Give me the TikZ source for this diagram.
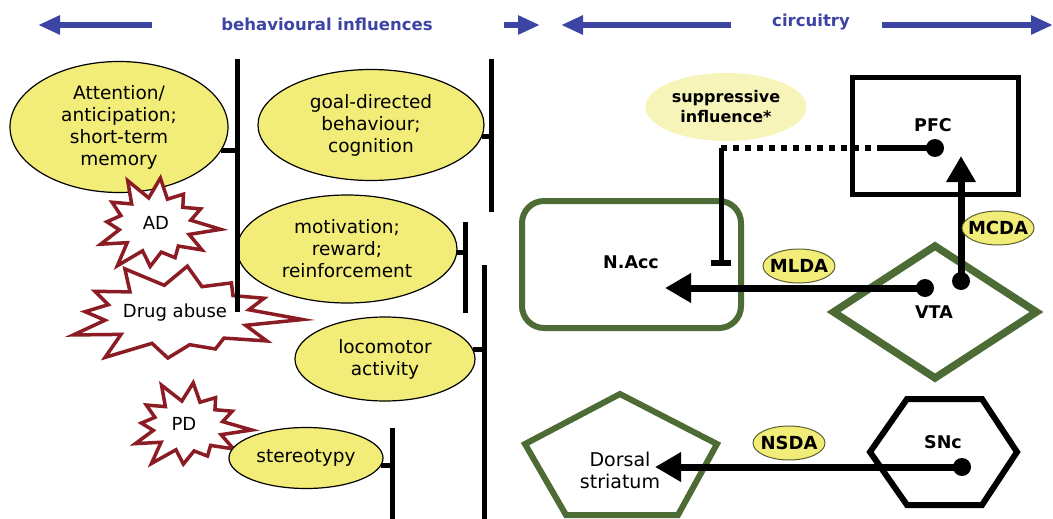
\documentclass[tikz,border=0pt]{standalone}
\usepackage{fontspec}
\setmainfont{DejaVu Sans}
\usetikzlibrary{shapes.geometric,arrows.meta}
\definecolor{hblue}{HTML}{3C44A4}
\definecolor{bgreen}{HTML}{4D6B35}
\definecolor{ell}{HTML}{F2EC78}
\definecolor{pale}{HTML}{F6F4B8}
\definecolor{bred}{HTML}{8C1C24}
\definecolor{lblb}{HTML}{5A6030}
\newcommand\mkburst[5]{%
 \draw[burst] plot[samples at={0,...,23}, variable=\k]
 ({#1+(mod(\k,2)==0 ? #3*(0.86+0.14*cos(\k*137)) : #3*#5)*cos(\k*15+5)},
  {#2+(mod(\k,2)==0 ? #4*(0.86+0.14*cos(\k*137)) : #4*#5)*sin(\k*15+5)}) -- cycle;}
\begin{document}
\begin{tikzpicture}[x=1pt,y=-1pt,
 behell/.style={ellipse, draw=black, line width=1.2pt, fill=ell, inner sep=0pt, align=center, font=\fontsize{18.5}{22}\selectfont},
 bar/.style={line width=5pt},
 burst/.style={draw=bred, line width=3.5pt, fill=white, line join=miter},
 bursttext/.style={font=\fontsize{18}{22}\selectfont},
 harrow/.style={draw=hblue, line width=6pt, -{Triangle[length=22pt,width=18pt]}},
 htext/.style={text=hblue, font=\bfseries\fontsize{16.5}{20}\selectfont},
 ctext/.style={font=\bfseries\fontsize{17.5}{21}\selectfont, align=center},
 dtext/.style={font=\fontsize{19}{22}\selectfont, align=center},
 arr/.style={line width=7pt, -{Triangle[length=26pt,width=28pt]}},
 lab/.style={ellipse, draw=lblb, line width=1pt, fill=ell, inner xsep=-14pt, inner ysep=-2pt, minimum width=72pt, minimum height=34pt, font=\bfseries\fontsize{18}{20}\selectfont},
 dotf/.style={fill=black}
]
\useasboundingbox (0,0) rectangle (1053,519);

% header
\coordinate (ha1s) at (152,25); \coordinate (ha1e) at (38,25);
\coordinate (ha2s) at (504,25); \coordinate (ha2e) at (540,25);
\coordinate (ha3s) at (731,25); \coordinate (ha3e) at (561,25);
\coordinate (ha4s) at (882,25); \coordinate (ha4e) at (1053,25);
\draw[harrow] (ha1s) -- (ha1e);
\draw[harrow] (ha2s) -- (ha2e);
\draw[harrow] (ha3s) -- (ha3e);
\draw[harrow] (ha4s) -- (ha4e);
\node[htext] (beh) at (327,24) {behavioural influences};
\node[htext] (circ) at (811,22) {circuitry};

% left: behaviours
\node[behell, minimum width=218pt, minimum height=131pt] (att) at (119,127) {Attention/\\anticipation;\\short-term\\memory};
\mkburst{155}{225}{66}{50}{0.55}
\node[bursttext] (ad) at (156,223) {AD};
\mkburst{177}{315}{126}{52}{0.58}
\node[bursttext] (drug) at (175,313) {Drug abuse};
\mkburst{188}{426}{64}{46}{0.55}
\node[bursttext] (pd) at (184,424) {PD};

\node[behell, minimum width=226pt, minimum height=111pt] (goal) at (371,125) {goal-directed\\behaviour;\\cognition};
\node[behell, minimum width=220pt, minimum height=108pt] (motiv) at (347,249) {motivation;\\reward;\\reinforcement};
\node[behell, minimum width=180pt, minimum height=84pt] (loco) at (385,359) {locomotor\\activity};
\node[behell, minimum width=154pt, minimum height=61pt] (stereo) at (306,458) {stereotypy};

\coordinate (l1t) at (237,59); \coordinate (l1b) at (237,312);
\coordinate (l2t) at (491,59); \coordinate (l2b) at (491,212);
\coordinate (l3t) at (465,222); \coordinate (l3b) at (465,313);
\coordinate (l4t) at (484,265); \coordinate (l4b) at (484,522);
\coordinate (l5t) at (392,428); \coordinate (l5b) at (392,522);
\draw[bar] (l1t) -- (l1b);
\draw[bar] (l2t) -- (l2b);
\draw[bar] (l3t) -- (l3b);
\draw[bar] (l4t) -- (l4b);
\draw[bar] (l5t) -- (l5b);
\draw[bar] (att.-13) -- (att.-13 -| l1t);
\draw[bar] (goal.-6) -- (goal.-6 -| l2t);
\draw[bar] (motiv.-2) -- (motiv.-2 -| l3t);
\draw[bar] (loco.6) -- (loco.6 -| l4t);
\draw[bar] (stereo.-6) -- (stereo.-6 -| l5t);

% right: circuitry
\node[ellipse, fill=pale, minimum width=161pt, minimum height=68pt, inner sep=0pt, align=center, font=\bfseries\fontsize{16}{20}\selectfont] (supp) at (726,107) {suppressive\\influence*};

\node[draw, line width=5pt, minimum width=166pt, minimum height=116pt, inner sep=0pt] (pfc) at (935,136) {};
\node[ctext] (pfct) at (933,125) {PFC};

\node[draw=bgreen, line width=6pt, rounded corners=22pt, minimum width=219pt, minimum height=127pt, inner sep=0pt] (nacc) at (631.5,264.5) {};
\node[ctext] (nacct) at (631,262) {N.Acc};

\node[diamond, draw=bgreen, line width=7.5pt, minimum width=206pt, minimum height=135pt, inner sep=0pt] (vta) at (935,312) {};
\node[ctext] (vtat) at (934,312) {VTA};

\coordinate (p1) at (620,394); \coordinate (p2) at (717,444); \coordinate (p3) at (678,515);
\coordinate (p4) at (566,515); \coordinate (p5) at (525,444);
\draw[draw=bgreen, line width=6pt, line join=miter] (p1) -- (p2) -- (p3) -- (p4) -- (p5) -- cycle;
\node[dtext] (dst) at (620,470) {Dorsal\\striatum};

\coordinate (h1) at (870,452); \coordinate (h2) at (907,399); \coordinate (h3) at (982,399);
\coordinate (h4) at (1017,452); \coordinate (h5) at (982,505); \coordinate (h6) at (907,505);
\draw[line width=6pt, line join=miter] (h1) -- (h2) -- (h3) -- (h4) -- (h5) -- (h6) -- cycle;
\node[ctext] (snct) at (943,442) {SNc};

% suppressive connection
\coordinate (pfcdot) at (935,148);
\coordinate (suppc) at (721,148);
\coordinate (dotend) at (881,148);
\coordinate (tbar) at (721,266);
\draw[line width=6pt, dash pattern=on 6pt off 6pt] (suppc) -- (dotend);
\draw[line width=6pt] (dotend) -- (pfcdot);
\fill[dotf] (pfcdot) circle[radius=9pt];
\draw[line width=5pt, -{Bar[width=20pt,line width=6pt]}] (suppc) -- (tbar);

% MLDA
\coordinate (vtadot) at (925,288);
\coordinate (mltip) at (665,288);
\draw[arr] (vtadot) -- (mltip);
\fill[dotf] (vtadot) circle[radius=9pt];
\node[lab] (mlda) at (799,266) {MLDA};

% MCDA
\coordinate (vtadot2) at (961,281);
\coordinate (mctip) at (961,156);
\draw[arr] (vtadot2) -- (mctip);
\fill[dotf] (vtadot2) circle[radius=9pt];
\node[lab] (mcda) at (998,228) {MCDA};

% NSDA
\coordinate (sncdot) at (962,467);
\coordinate (nstip) at (655,467);
\draw[arr] (sncdot) -- (nstip);
\fill[dotf] (sncdot) circle[radius=9pt];
\node[lab] (nsda) at (789,443) {NSDA};
\end{tikzpicture}
\end{document}
